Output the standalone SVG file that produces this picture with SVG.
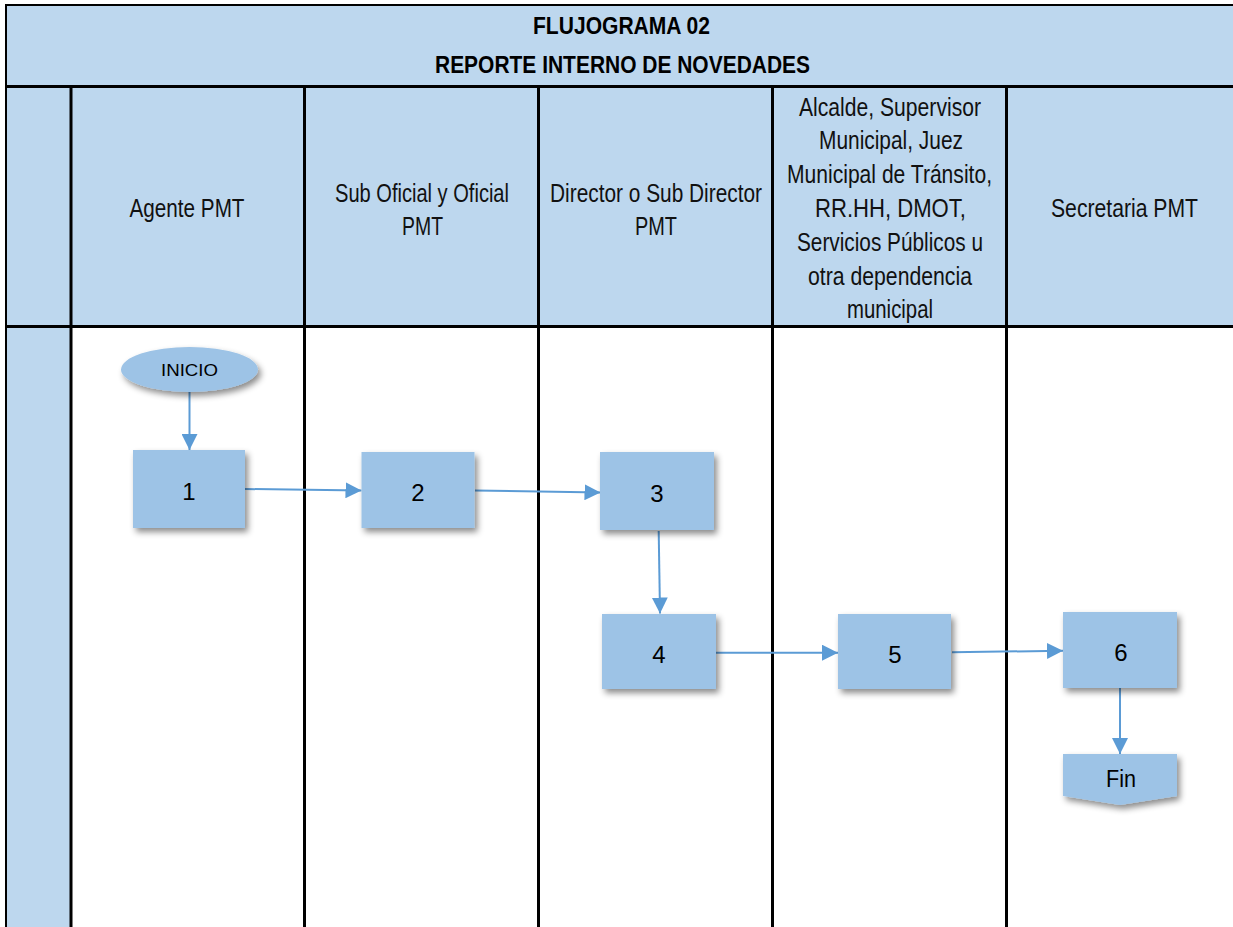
<svg xmlns="http://www.w3.org/2000/svg" width="1233" height="927" viewBox="0 0 1233 927">
<style>
.hdr{fill:#BDD7EE}
.grid{stroke:#000;stroke-width:3;fill:none}
.title{font-family:"Liberation Sans",Arial,sans-serif;font-weight:bold;font-size:24px;fill:#000;text-anchor:middle}
.lane{font-family:"Liberation Sans",Arial,sans-serif;font-size:25px;fill:#111;text-anchor:middle}
.node{fill:#9DC3E6;filter:url(#sh)}
.num{font-family:"Liberation Sans",Arial,sans-serif;font-size:24px;fill:#000;text-anchor:middle}
.small{font-family:"Liberation Sans",Arial,sans-serif;font-size:17px;fill:#000;text-anchor:middle}
.conn{stroke:#5B9BD5;stroke-width:2;fill:none;marker-end:url(#ah)}
</style>
<defs>
<filter id="sh" x="-20%" y="-20%" width="150%" height="160%">
<feDropShadow dx="3" dy="4" stdDeviation="3" flood-color="#000" flood-opacity="0.45"/>
</filter>
<marker id="ah" markerUnits="userSpaceOnUse" markerWidth="18" markerHeight="16" refX="16" refY="8" orient="auto">
<path d="M0,0 L16,8 L0,16 Z" fill="#5B9BD5"/>
</marker>
</defs>
<rect x="0" y="0" width="1233" height="927" fill="#fff"/>
<g id="table">
<rect class="hdr" x="6" y="5" width="1227" height="322"/>
<rect class="hdr" x="6" y="327" width="65" height="600"/>
<line class="grid" x1="5" y1="5" x2="1233" y2="5" style="stroke-width:2"/>
<line class="grid" x1="6" y1="4" x2="6" y2="927" style="stroke-width:2"/>
<line class="grid" x1="6" y1="86.5" x2="1233" y2="86.5"/>
<line class="grid" x1="6" y1="326.5" x2="1233" y2="326.5"/>
<line class="grid" x1="71" y1="86" x2="71" y2="927"/>
<line class="grid" x1="304.5" y1="86" x2="304.5" y2="927"/>
<line class="grid" x1="538.5" y1="86" x2="538.5" y2="927"/>
<line class="grid" x1="772.5" y1="86" x2="772.5" y2="927"/>
<line class="grid" x1="1006.5" y1="86" x2="1006.5" y2="927"/>
<text class="title" x="621.5" y="34" textLength="177" lengthAdjust="spacingAndGlyphs">FLUJOGRAMA 02</text>
<text class="title" x="622.5" y="73" textLength="375" lengthAdjust="spacingAndGlyphs">REPORTE INTERNO DE NOVEDADES</text>
<text class="lane" x="187" y="217" textLength="115" lengthAdjust="spacingAndGlyphs">Agente PMT</text>
<text class="lane" x="422" y="202" textLength="174" lengthAdjust="spacingAndGlyphs">Sub Oficial y Oficial</text>
<text class="lane" x="422.5" y="235" textLength="41" lengthAdjust="spacingAndGlyphs">PMT</text>
<text class="lane" x="656" y="202" textLength="212" lengthAdjust="spacingAndGlyphs">Director o Sub Director</text>
<text class="lane" x="656" y="235" textLength="42" lengthAdjust="spacingAndGlyphs">PMT</text>
<text class="lane" x="890" y="116" textLength="182" lengthAdjust="spacingAndGlyphs">Alcalde, Supervisor</text>
<text class="lane" x="891" y="149" textLength="144" lengthAdjust="spacingAndGlyphs">Municipal, Juez</text>
<text class="lane" x="889.5" y="183" textLength="205" lengthAdjust="spacingAndGlyphs">Municipal de Tránsito,</text>
<text class="lane" x="890.5" y="217" textLength="151" lengthAdjust="spacingAndGlyphs">RR.HH, DMOT,</text>
<text class="lane" x="890" y="251" textLength="186" lengthAdjust="spacingAndGlyphs">Servicios Públicos u</text>
<text class="lane" x="890" y="285" textLength="164" lengthAdjust="spacingAndGlyphs">otra dependencia</text>
<text class="lane" x="890" y="318" textLength="86" lengthAdjust="spacingAndGlyphs">municipal</text>
<text class="lane" x="1124.5" y="217" textLength="147" lengthAdjust="spacingAndGlyphs">Secretaria PMT</text>
</g>
<g id="connectors">
<line class="conn" x1="189.5" y1="392" x2="189.5" y2="450"/>
<line class="conn" x1="245" y1="489" x2="361.5" y2="490.5"/>
<line class="conn" x1="475" y1="490.5" x2="600.5" y2="492.5"/>
<line class="conn" x1="658.7" y1="531" x2="660" y2="613.5"/>
<line class="conn" x1="716" y1="652.7" x2="838" y2="652.7"/>
<line class="conn" x1="952" y1="652.3" x2="1063" y2="650.7"/>
<line class="conn" x1="1120" y1="688" x2="1120" y2="754"/>
</g>
<g id="inicio">
<ellipse class="node" cx="189.5" cy="369.5" rx="68.5" ry="22.5"/>
<text class="small" x="189.5" y="376" textLength="57" lengthAdjust="spacingAndGlyphs">INICIO</text>
</g>
<g id="n1">
<rect class="node" x="133" y="450" width="112" height="78"/>
<text class="num" x="189" y="500">1</text>
</g>
<g id="n2">
<rect class="node" x="361.5" y="452" width="113" height="76"/>
<text class="num" x="418" y="501">2</text>
</g>
<g id="n3">
<rect class="node" x="600" y="452" width="114" height="78"/>
<text class="num" x="657" y="502">3</text>
</g>
<g id="n4">
<rect class="node" x="602" y="614" width="114" height="75"/>
<text class="num" x="659" y="663">4</text>
</g>
<g id="n5">
<rect class="node" x="838" y="614" width="113" height="75"/>
<text class="num" x="895" y="663">5</text>
</g>
<g id="n6">
<rect class="node" x="1063" y="612" width="114" height="76"/>
<text class="num" x="1121" y="661">6</text>
</g>
<g id="fin">
<polygon class="node" points="1063,754 1177,754 1177,796 1120,805 1063,796"/>
<text class="num" x="1121" y="787" style="font-size:23px" textLength="30" lengthAdjust="spacingAndGlyphs">Fin</text>
</g>
</svg>
